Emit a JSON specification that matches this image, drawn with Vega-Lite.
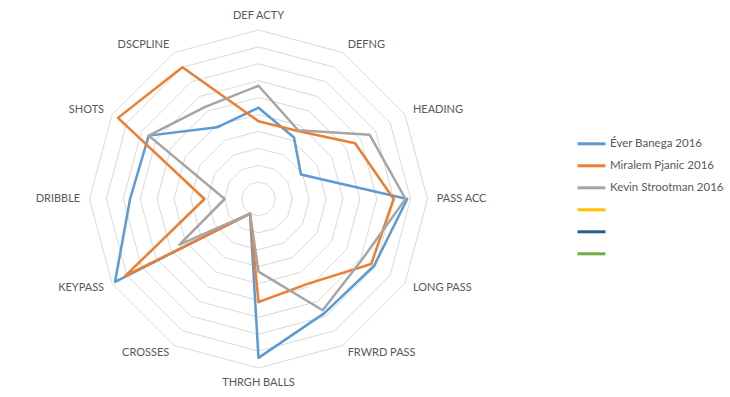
{
  "$schema": "https://vega.github.io/schema/vega-lite/v6.json",
  "width": 338,
  "height": 338,
  "autosize": "none",
  "padding": {"left": 89.5, "top": 30, "right": 302.5, "bottom": 29},
  "background": "white",
  "config": {"view": {"stroke": null}},
  "datasets": {
    "stats": [
      {"player": "Éver Banega 2016", "metric": "DEF ACTY", "idx": 0, "value": 5.4},
      {"player": "Éver Banega 2016", "metric": "DEFNG", "idx": 1, "value": 4.2},
      {"player": "Éver Banega 2016", "metric": "HEADING", "idx": 2, "value": 2.9},
      {"player": "Éver Banega 2016", "metric": "PASS ACC", "idx": 3, "value": 8.8},
      {"player": "Éver Banega 2016", "metric": "LONG PASS", "idx": 4, "value": 7.9},
      {"player": "Éver Banega 2016", "metric": "FRWRD PASS", "idx": 5, "value": 7.8},
      {"player": "Éver Banega 2016", "metric": "THRGH BALLS", "idx": 6, "value": 9.4},
      {"player": "Éver Banega 2016", "metric": "CROSSES", "idx": 7, "value": 1.0},
      {"player": "Éver Banega 2016", "metric": "KEYPASS", "idx": 8, "value": 9.8},
      {"player": "Éver Banega 2016", "metric": "DRIBBLE", "idx": 9, "value": 7.6},
      {"player": "Éver Banega 2016", "metric": "SHOTS", "idx": 10, "value": 7.5},
      {"player": "Éver Banega 2016", "metric": "DSCPLINE", "idx": 11, "value": 4.9},
      {"player": "Miralem Pjanic 2016", "metric": "DEF ACTY", "idx": 0, "value": 4.6},
      {"player": "Miralem Pjanic 2016", "metric": "DEFNG", "idx": 1, "value": 4.65},
      {"player": "Miralem Pjanic 2016", "metric": "HEADING", "idx": 2, "value": 6.6},
      {"player": "Miralem Pjanic 2016", "metric": "PASS ACC", "idx": 3, "value": 8.0},
      {"player": "Miralem Pjanic 2016", "metric": "LONG PASS", "idx": 4, "value": 7.7},
      {"player": "Miralem Pjanic 2016", "metric": "FRWRD PASS", "idx": 5, "value": 5.8},
      {"player": "Miralem Pjanic 2016", "metric": "THRGH BALLS", "idx": 6, "value": 6.1},
      {"player": "Miralem Pjanic 2016", "metric": "CROSSES", "idx": 7, "value": 1.0},
      {"player": "Miralem Pjanic 2016", "metric": "KEYPASS", "idx": 8, "value": 9.1},
      {"player": "Miralem Pjanic 2016", "metric": "DRIBBLE", "idx": 9, "value": 3.2},
      {"player": "Miralem Pjanic 2016", "metric": "SHOTS", "idx": 10, "value": 9.6},
      {"player": "Miralem Pjanic 2016", "metric": "DSCPLINE", "idx": 11, "value": 9.0},
      {"player": "Kevin Strootman 2016", "metric": "DEF ACTY", "idx": 0, "value": 6.7},
      {"player": "Kevin Strootman 2016", "metric": "DEFNG", "idx": 1, "value": 4.7},
      {"player": "Kevin Strootman 2016", "metric": "HEADING", "idx": 2, "value": 7.6},
      {"player": "Kevin Strootman 2016", "metric": "PASS ACC", "idx": 3, "value": 8.7},
      {"player": "Kevin Strootman 2016", "metric": "LONG PASS", "idx": 4, "value": 7.1},
      {"player": "Kevin Strootman 2016", "metric": "FRWRD PASS", "idx": 5, "value": 7.6},
      {"player": "Kevin Strootman 2016", "metric": "THRGH BALLS", "idx": 6, "value": 4.3},
      {"player": "Kevin Strootman 2016", "metric": "CROSSES", "idx": 7, "value": 1.0},
      {"player": "Kevin Strootman 2016", "metric": "KEYPASS", "idx": 8, "value": 5.4},
      {"player": "Kevin Strootman 2016", "metric": "DRIBBLE", "idx": 9, "value": 2.0},
      {"player": "Kevin Strootman 2016", "metric": "SHOTS", "idx": 10, "value": 7.5},
      {"player": "Kevin Strootman 2016", "metric": "DSCPLINE", "idx": 11, "value": 6.3}
    ],
    "axes": [
      {"metric": "DEF ACTY", "idx": 0, "levels": [1,2,3,4,5,6,7,8,9,10]},
      {"metric": "DEFNG", "idx": 1, "levels": [1,2,3,4,5,6,7,8,9,10]},
      {"metric": "HEADING", "idx": 2, "levels": [1,2,3,4,5,6,7,8,9,10]},
      {"metric": "PASS ACC", "idx": 3, "levels": [1,2,3,4,5,6,7,8,9,10]},
      {"metric": "LONG PASS", "idx": 4, "levels": [1,2,3,4,5,6,7,8,9,10]},
      {"metric": "FRWRD PASS", "idx": 5, "levels": [1,2,3,4,5,6,7,8,9,10]},
      {"metric": "THRGH BALLS", "idx": 6, "levels": [1,2,3,4,5,6,7,8,9,10]},
      {"metric": "CROSSES", "idx": 7, "levels": [1,2,3,4,5,6,7,8,9,10]},
      {"metric": "KEYPASS", "idx": 8, "levels": [1,2,3,4,5,6,7,8,9,10]},
      {"metric": "DRIBBLE", "idx": 9, "levels": [1,2,3,4,5,6,7,8,9,10]},
      {"metric": "SHOTS", "idx": 10, "levels": [1,2,3,4,5,6,7,8,9,10]},
      {"metric": "DSCPLINE", "idx": 11, "levels": [1,2,3,4,5,6,7,8,9,10]}
    ]
  },
  "layer": [
    {
      "data": {"name": "axes"},
      "transform": [
        {"flatten": ["levels"], "as": ["level"]},
        {"calculate": "datum.idx * PI / 6", "as": "theta"},
        {"calculate": "datum.level * sin(datum.theta)", "as": "px"},
        {"calculate": "datum.level * cos(datum.theta)", "as": "py"}
      ],
      "mark": {"type": "line", "interpolate": "linear-closed", "color": "#D9D9D9", "strokeWidth": 1},
      "encoding": {
        "x": {"field": "px", "type": "quantitative", "scale": {"domain": [-10, 10], "nice": false, "zero": false}, "axis": null},
        "y": {"field": "py", "type": "quantitative", "scale": {"domain": [-10, 10], "nice": false, "zero": false}, "axis": null},
        "detail": {"field": "level", "type": "nominal"},
        "order": {"field": "idx", "type": "quantitative"}
      }
    },
    {
      "data": {"name": "stats"},
      "transform": [
        {"calculate": "datum.idx * PI / 6", "as": "theta"},
        {"calculate": "datum.value * sin(datum.theta)", "as": "px"},
        {"calculate": "datum.value * cos(datum.theta)", "as": "py"}
      ],
      "mark": {"type": "line", "interpolate": "linear-closed", "strokeWidth": 2.5, "strokeJoin": "round"},
      "encoding": {
        "x": {"field": "px", "type": "quantitative"},
        "y": {"field": "py", "type": "quantitative"},
        "order": {"field": "idx", "type": "quantitative"},
        "color": {
          "field": "player",
          "type": "nominal",
          "scale": {
            "domain": ["Éver Banega 2016", "Miralem Pjanic 2016", "Kevin Strootman 2016", " ", "  ", "   "],
            "range": ["#5B9BD5", "#ED7D31", "#A5A5A5", "#FFC000", "#255E91", "#70AD47"]
          },
          "legend": {
            "orient": "none",
            "legendX": 486.5,
            "legendY": 98.3,
            "title": null,
            "padding": 0,
            "symbolType": "stroke",
            "symbolSize": 784,
            "symbolStrokeWidth": 3,
            "rowPadding": -5,
            "labelOffset": 3,
            "labelFont": "Lato",
            "labelFontSize": 11.5,
            "labelColor": "#595959",
            "labelLimit": 200
          }
        }
      }
    },
    {
      "data": {"name": "axes"},
      "transform": [
        {"filter": "datum.idx >= 1 && datum.idx <= 5"},
        {"calculate": "datum.idx * PI / 6", "as": "theta"},
        {"calculate": "10.55 * sin(datum.theta)", "as": "px"},
        {"calculate": "10.55 * cos(datum.theta)", "as": "py"}
      ],
      "mark": {"type": "text", "align": "left", "baseline": "middle", "font": "Lato", "fontSize": 11, "color": "#595959"},
      "encoding": {
        "x": {"field": "px", "type": "quantitative"},
        "y": {"field": "py", "type": "quantitative"},
        "text": {"field": "metric", "type": "nominal"}
      }
    },
    {
      "data": {"name": "axes"},
      "transform": [
        {"filter": "datum.idx >= 7"},
        {"calculate": "datum.idx * PI / 6", "as": "theta"},
        {"calculate": "10.55 * sin(datum.theta)", "as": "px"},
        {"calculate": "10.55 * cos(datum.theta)", "as": "py"}
      ],
      "mark": {"type": "text", "align": "right", "baseline": "middle", "font": "Lato", "fontSize": 11, "color": "#595959"},
      "encoding": {
        "x": {"field": "px", "type": "quantitative"},
        "y": {"field": "py", "type": "quantitative"},
        "text": {"field": "metric", "type": "nominal"}
      }
    },
    {
      "data": {"name": "axes"},
      "transform": [
        {"filter": "datum.idx == 0"},
        {"calculate": "10.55", "as": "py"},
        {"calculate": "0", "as": "px"}
      ],
      "mark": {"type": "text", "align": "center", "baseline": "bottom", "font": "Lato", "fontSize": 11, "color": "#595959"},
      "encoding": {
        "x": {"field": "px", "type": "quantitative"},
        "y": {"field": "py", "type": "quantitative"},
        "text": {"field": "metric", "type": "nominal"}
      }
    },
    {
      "data": {"name": "axes"},
      "transform": [
        {"filter": "datum.idx == 6"},
        {"calculate": "-10.55", "as": "py"},
        {"calculate": "0", "as": "px"}
      ],
      "mark": {"type": "text", "align": "center", "baseline": "top", "font": "Lato", "fontSize": 11, "color": "#595959"},
      "encoding": {
        "x": {"field": "px", "type": "quantitative"},
        "y": {"field": "py", "type": "quantitative"},
        "text": {"field": "metric", "type": "nominal"}
      }
    }
  ]
}
